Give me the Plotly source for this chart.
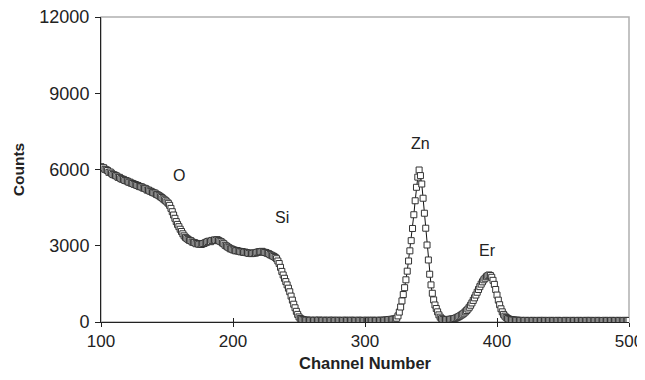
import plotly.graph_objects as go

channels = list(range(100, 501))

counts = [
    # 100-149
    6110, 6060, 6070, 6010, 5990, 5960, 5890, 5900, 5850, 5800,
    5790, 5760, 5740, 5690, 5690, 5640, 5620, 5610, 5570, 5560,
    5540, 5500, 5500, 5460, 5450, 5420, 5410, 5380, 5370, 5330,
    5320, 5310, 5270, 5260, 5240, 5190, 5190, 5150, 5140, 5100,
    5080, 5070, 5020, 5000, 4970, 4930, 4900, 4850, 4810, 4770,
    # 150-199
    4720, 4670, 4590, 4470, 4340, 4210, 4080, 3950, 3840, 3750,
    3650, 3560, 3470, 3390, 3330, 3290, 3250, 3210, 3200, 3150,
    3130, 3120, 3080, 3090, 3060, 3070, 3050, 3080, 3090, 3120,
    3140, 3170, 3180, 3160, 3210, 3200, 3230, 3210, 3240, 3210,
    3180, 3160, 3110, 3080, 3020, 2990, 2950, 2920, 2880, 2870,
    # 200-249
    2840, 2830, 2800, 2810, 2790, 2780, 2760, 2770, 2740, 2750,
    2730, 2720, 2700, 2710, 2690, 2700, 2720, 2710, 2740, 2750,
    2770, 2760, 2780, 2750, 2740, 2730, 2700, 2690, 2650, 2630,
    2600, 2580, 2540, 2490, 2400, 2300, 2150, 1990, 1850, 1720,
    1590, 1460, 1330, 1190, 1020, 860, 700, 560, 420, 300,
    # 250-299
    200, 140, 110, 90, 80, 70, 75, 65, 60, 70,
    65, 55, 70, 60, 65, 75, 60, 55, 65, 70,
    60, 65, 55, 70, 60, 65, 70, 55, 60, 65,
    70, 60, 55, 65, 60, 70, 65, 60, 55, 65,
    70, 60, 65, 55, 60, 70, 65, 60, 65, 55,
    # 300-349
    60, 70, 65, 55, 60, 65, 70, 60, 55, 65,
    60, 70, 65, 60, 70, 70, 80, 85, 95, 100,
    105, 110, 115, 125, 150, 240, 390, 590, 830, 1080,
    1350, 1660, 2000, 2400, 2800, 3200, 3680, 4220, 4770, 5300,
    5700, 5980, 5760, 5430, 4870, 4280, 3690, 3030, 2440, 1880,
    # 350-399
    1460, 1130, 870, 670, 530, 400, 280, 190, 130, 105,
    95, 90, 100, 95, 105, 110, 120, 130, 140, 160,
    185, 210, 240, 275, 310, 350, 400, 450, 510, 580,
    660, 750, 850, 950, 1060, 1170, 1280, 1390, 1490, 1580,
    1660, 1720, 1780, 1820, 1850, 1830, 1760, 1640, 1480, 1280,
    # 400-449
    1060, 860, 680, 520, 400, 300, 230, 180, 140, 115,
    100, 90, 80, 75, 70, 70, 65, 60, 65, 60,
    55, 60, 65, 55, 60, 60, 55, 65, 60, 55,
    60, 55, 65, 60, 55, 60, 65, 55, 60, 55,
    60, 65, 55, 60, 55, 60, 65, 55, 60, 60,
    # 450-500
    55, 60, 65, 55, 60, 55, 60, 65, 55, 60,
    60, 55, 65, 60, 55, 60, 55, 65, 60, 55,
    60, 65, 55, 60, 55, 60, 65, 55, 60, 60,
    55, 60, 65, 55, 60, 55, 60, 65, 55, 60,
    60, 55, 65, 60, 55, 60, 55, 65, 60, 55,
    60,
]
assert len(counts) == len(channels)

peak_labels = ["O", "Si", "Zn", "Er"]
peak_label_x = [159, 237, 342, 393]
peak_label_y = [5750, 4130, 7040, 2830]

x_ticks = [100, 200, 300, 400, 500]
y_ticks = [0, 3000, 6000, 9000, 12000]

FONT = "Liberation Sans, Arial, sans-serif"
DARK = "#222222"

fig = go.Figure()
fig.add_trace(go.Scatter(
    x=channels, y=counts, mode="lines+markers",
    line=dict(color="#111111", width=1),
    marker=dict(symbol="square", size=6, color="white",
                line=dict(color="#333333", width=1)),
    showlegend=False, xaxis="x", yaxis="y",
))
# invisible helper trace for inward tick marks on the x axis
fig.add_trace(go.Scatter(x=[channels[0]], y=[counts[0]], xaxis="x2", yaxis="y",
                         mode="markers", marker=dict(opacity=0), showlegend=False,
                         hoverinfo="skip"))

for t, xv, yv in zip(peak_labels, peak_label_x, peak_label_y):
    fig.add_annotation(x=xv, y=yv, text=t, showarrow=False,
                       font=dict(family=FONT, size=16, color=DARK))

fig.add_shape(type="rect", xref="paper", yref="paper", x0=0, y0=0, x1=1, y1=1,
              line=dict(color="#b0b0b0", width=1.5), layer="below")

# the page body adds an 8px offset on every side, so the figure is kept
# small enough that the page does not overflow the window
fig.update_layout(
    width=637, height=364,
    margin=dict(l=93, r=16, t=9, b=50, autoexpand=False),
    paper_bgcolor="white", plot_bgcolor="white",
    font=dict(family=FONT, size=17, color=DARK),
    xaxis=dict(range=[100, 500], tickvals=x_ticks, ticks="outside", ticklen=4,
               tickcolor=DARK, tickwidth=1, showline=True, linecolor=DARK, linewidth=1,
               showgrid=False, zeroline=False, automargin=False,
               ticklabeloverflow="allow",
               tickfont=dict(family=FONT, size=17, color=DARK),
               title=dict(text="<b>Channel Number</b>", standoff=8,
                          font=dict(family=FONT, size=16.5, color=DARK))),
    xaxis2=dict(range=[100, 500], tickvals=x_ticks, ticks="inside", ticklen=4,
                tickcolor=DARK, tickwidth=1, overlaying="x", matches="x",
                showticklabels=False, showline=False, showgrid=False, zeroline=False,
                side="bottom", anchor="y", automargin=False),
    yaxis=dict(range=[0, 12000], tickvals=y_ticks, tickformat="d", ticks="outside",
               ticklen=5, tickcolor=DARK, tickwidth=1, showline=True, linecolor=DARK,
               linewidth=1, showgrid=False, zeroline=False, automargin=False,
               ticklabelstandoff=2, ticklabeloverflow="allow",
               tickfont=dict(family=FONT, size=18, color=DARK),
               title=dict(text="<b>Counts</b>", standoff=10,
                          font=dict(family=FONT, size=15.5, color=DARK))),
)

fig.write_html("out.html")
